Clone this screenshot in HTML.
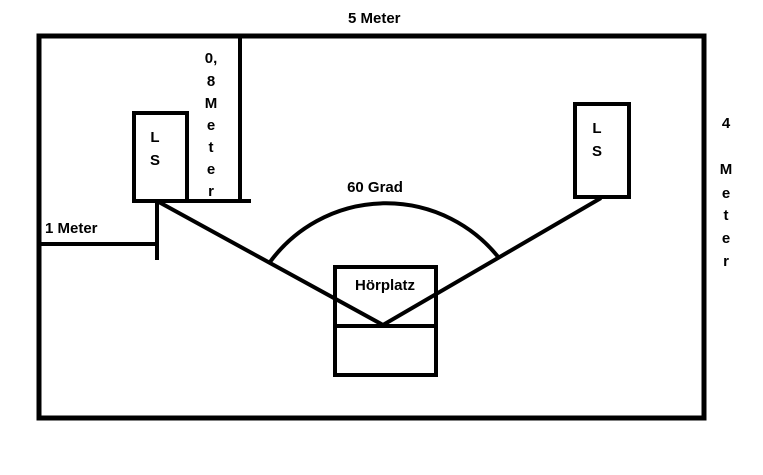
<!DOCTYPE html>
<html><head><style>body{margin:0;background:#fff}svg{display:block}text{font-family:"Liberation Sans",sans-serif;font-weight:bold;font-size:15px;fill:#000}</style></head><body>
<svg width="763" height="475" viewBox="0 0 763 475">
<rect x="39" y="36" width="665" height="382" fill="none" stroke="#000" stroke-width="5"/>
<line x1="240" y1="36" x2="240" y2="201" stroke="#000" stroke-width="4"/>
<line x1="186" y1="201" x2="251" y2="201" stroke="#000" stroke-width="4"/>
<rect x="134" y="113" width="53" height="88" fill="none" stroke="#000" stroke-width="4"/>
<rect x="575" y="104" width="54" height="93" fill="none" stroke="#000" stroke-width="4"/>
<line x1="37" y1="244" x2="157" y2="244" stroke="#000" stroke-width="4"/>
<line x1="157" y1="201" x2="157" y2="260" stroke="#000" stroke-width="4"/>
<rect x="335" y="267" width="101" height="108" fill="none" stroke="#000" stroke-width="4"/>
<line x1="335" y1="326" x2="436" y2="326" stroke="#000" stroke-width="4"/>
<polyline points="157,201 383,325 601,198" fill="none" stroke="#000" stroke-width="4"/>
<path d="M270,262 A144,144 0 0 1 499,258" fill="none" stroke="#000" stroke-width="4"/>
<text x="348" y="23">5 Meter</text>
<text x="45" y="233">1 Meter</text>
<text x="375" y="192" text-anchor="middle">60 Grad</text>
<text x="385" y="290" text-anchor="middle">Hörplatz</text>
<g text-anchor="middle">
<text x="155" y="142">L</text><text x="155" y="165">S</text>
<text x="597" y="133">L</text><text x="597" y="156">S</text>
<text x="211" y="63">0,</text><text x="211" y="86">8</text><text x="211" y="108">M</text><text x="211" y="130">e</text><text x="211" y="152">t</text><text x="211" y="174">e</text><text x="211" y="196">r</text>
<text x="726" y="128">4</text><text x="726" y="174">M</text><text x="726" y="198">e</text><text x="726" y="220">t</text><text x="726" y="243">e</text><text x="726" y="266">r</text>
</g>
</svg>
</body></html>
